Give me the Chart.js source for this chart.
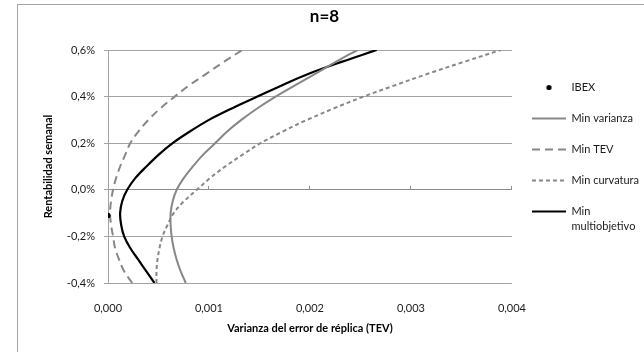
<!DOCTYPE html>
<html>
<head>
<meta charset="utf-8">
<script src="https://cdn.jsdelivr.net/npm/chart.js@4.4.1/dist/chart.umd.min.js"></script>
<style>
  html, body { margin: 0; padding: 0; background: #fff; overflow: hidden; width: 644px; height: 352px; }
  #frame { position: absolute; left: 17px; top: 4px; width: 700px; height: 420px;
           border-left: 1px solid #a6a6a6; border-top: 1px solid #a6a6a6; }
  #wrap { position: absolute; left: 0; top: 0; width: 672px; height: 352px; }
</style>
</head>
<body>
<div id="frame"></div>
<div id="wrap"><canvas id="c" width="672" height="352"></canvas></div>
<script>
// Weekly return levels (%) shared by every frontier
const rentabilidad = [-0.4, -0.35, -0.3, -0.25, -0.2, -0.15, -0.1, -0.05, 0, 0.05, 0.1,
                      0.15, 0.2, 0.25, 0.3, 0.35, 0.4, 0.45, 0.5, 0.55, 0.6];

// Tracking error variance of each frontier at those return levels
const minVarianza = [0.00077, 0.00072, 0.00068, 0.00065, 0.00063, 0.00062, 0.00062, 0.00064, 0.00068, 0.00075, 0.00084,
                     0.00094, 0.00106, 0.00118, 0.00132, 0.00148, 0.00166, 0.00186, 0.00206, 0.00226, 0.00247];
const minTEV = [0.00024, 0.00016, 0.00011, 0.00007, 0.00005, 0.00003, 0.00002, 0.00003, 0.00005, 0.00008, 0.00012,
                0.00017, 0.00022, 0.00030, 0.00040, 0.00052, 0.00066, 0.00081, 0.00098, 0.00115, 0.00133];
const minCurvatura = [0.00048, 0.00048, 0.00049, 0.00051, 0.00054, 0.00059, 0.00065, 0.00075, 0.00088, 0.00101, 0.00116,
                      0.00133, 0.00151, 0.00173, 0.00197, 0.00224, 0.00253, 0.00285, 0.00318, 0.00353, 0.00389];
const minMultiobjetivo = [0.00046, 0.00038, 0.00030, 0.00022, 0.00016, 0.00013, 0.00012, 0.00014, 0.00019, 0.00027, 0.00038,
                          0.00050, 0.00064, 0.00081, 0.00100, 0.00123, 0.00148, 0.00173, 0.00200, 0.00232, 0.00266];

// The index itself
const ibexTEV = 0;
const ibexRent = -0.11;

// Axis labels
const xTickLabels = ['0,000', '0,001', '0,002', '0,003', '0,004'];
const yTickLabels = ['-0,4%', '-0,2%', '0,0%', '0,2%', '0,4%', '0,6%'];

const toPoints = (xs) => xs.map((x, i) => ({ x: x, y: rentabilidad[i] }));

Chart.defaults.font.family = 'Lato, "Open Sans", sans-serif';
Chart.defaults.color = '#1a1a1a';

// small dot used as the legend marker of the index
const dot = document.createElement('canvas');
dot.width = 7; dot.height = 7;
(function () {
  const g = dot.getContext('2d');
  g.fillStyle = '#000';
  g.beginPath(); g.arc(3.5, 3.5, 2.6, 0, Math.PI * 2); g.fill();
})();

const GRAY = '#878787';

const lineSeries = (label, xs, color, dash, width) => ({
  label: label,
  data: toPoints(xs),
  showLine: true,
  borderColor: color,
  backgroundColor: color,
  borderWidth: width,
  borderDash: dash,
  pointRadius: 0,
  pointHoverRadius: 0,
  pointStyle: 'line',
  tension: 0.35,
  fill: false
});

new Chart(document.getElementById('c'), {
  type: 'scatter',
  data: {
    datasets: [
      {
        label: 'IBEX',
        data: [{ x: ibexTEV, y: ibexRent }],
        showLine: false,
        pointRadius: 2.6,
        pointStyle: 'circle',
        backgroundColor: '#000',
        borderColor: '#000',
        borderWidth: 0,
        legendMarker: dot
      },
      lineSeries('Min varianza', minVarianza, GRAY, [], 2),
      lineSeries('Min TEV', minTEV, GRAY, [8, 5], 2),
      lineSeries('Min curvatura', minCurvatura, GRAY, [4, 3], 2),
      Object.assign(lineSeries('Min multiobjetivo', minMultiobjetivo, '#000', [], 2.2),
                    { legendText: ['Min', 'multiobjetivo'] })
    ]
  },
  options: {
    responsive: false,
    animation: false,
    layout: { padding: { left: 0, right: 23, top: 0, bottom: 0 } },
    plugins: {
      title: {
        display: true,
        text: 'n=8',
        color: '#000',
        font: { size: 17, weight: 'bold' },
        padding: { top: 6, bottom: 23.6 }
      },
      legend: {
        display: true,
        position: 'right',
        align: 'start',
        title: { display: true, text: ' ', padding: { top: 49.5, bottom: 0 }, font: { size: 10, lineHeight: 1.25 } },
        labels: {
          usePointStyle: true,
          pointStyleWidth: 34,
          boxHeight: 14,
          padding: 20,
          color: '#1a1a1a',
          font: { size: 11, lineHeight: 1.36 },
          generateLabels(chart) {
            const items = Chart.defaults.plugins.legend.labels.generateLabels(chart);
            items.forEach((it) => {
              const ds = chart.data.datasets[it.datasetIndex];
              if (ds.legendText) it.text = ds.legendText;
              if (ds.legendMarker) it.pointStyle = ds.legendMarker;
              it.lineDash = ds.borderDash || [];
            });
            return items;
          }
        }
      },
      tooltip: { enabled: false }
    },
    scales: {
      x: {
        type: 'linear',
        position: 'bottom',
        min: 0,
        max: 0.004,
        grid: { display: false },
        border: { display: false },
        ticks: {
          stepSize: 0.001,
          padding: 11,
          maxRotation: 0,
          font: { size: 11 },
          callback: (v, i) => xTickLabels[i]
        },
        title: {
          display: true,
          text: 'Varianza del error de réplica (TEV)',
          color: '#000',
          font: { size: 11, weight: 'bold' },
          padding: { top: 0, bottom: 17 }
        },
        afterFit: (s) => { s.height = 69; }
      },
      xCross: {
        type: 'linear',
        axis: 'x',
        position: { y: 0 },
        min: 0,
        max: 0.004,
        ticks: { display: false, stepSize: 0.001 },
        grid: { display: true, drawOnChartArea: false, drawTicks: true, tickLength: -4, color: '#8c8c8c' },
        border: { display: true, color: '#8c8c8c' }
      },
      y: {
        type: 'linear',
        position: 'left',
        min: -0.4,
        max: 0.6,
        grid: { color: '#a3a3a3', tickLength: 4, drawTicks: true },
        border: { display: true, color: '#a3a3a3' },
        ticks: {
          stepSize: 0.2,
          padding: 9,
          font: { size: 11 },
          callback: (v, i) => yTickLabels[i]
        },
        title: {
          display: true,
          text: 'Rentabilidad semanal',
          color: '#000',
          font: { size: 11, weight: 'bold' },
          padding: { top: 42, bottom: 0 }
        },
        afterFit: (s) => { s.width = 108; }
      }
    }
  }
});
</script>
</body>
</html>
